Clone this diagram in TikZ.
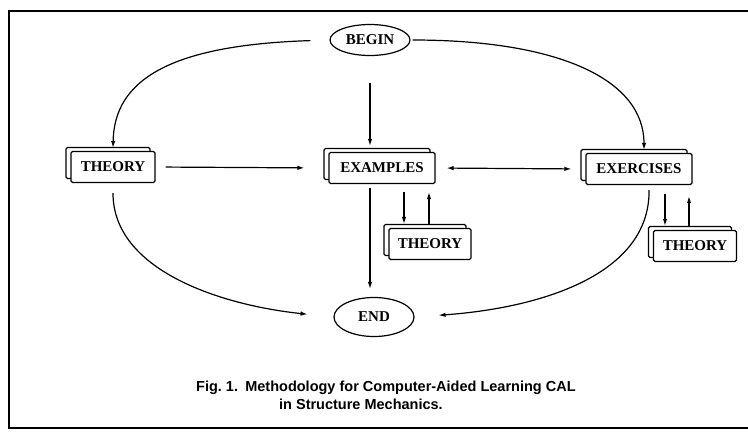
\documentclass[tikz,border=0pt]{standalone}
\usepackage{fontspec}
\setmainfont{Liberation Serif}
\newfontfamily\capfont{Liberation Sans}
\usetikzlibrary{arrows.meta,shapes.geometric,shadows}
\begin{document}
\begin{tikzpicture}[x=1pt,y=-1pt,
  every node/.style={inner sep=0pt},
  boxfont/.style={font=\bfseries\fontsize{15}{17}\selectfont},
  stackbox/.style={boxfont, draw, fill=white, rounded corners=1.5pt, line width=1.3pt,
     minimum height=31pt, copy shadow={shadow xshift=-5pt, shadow yshift=4pt}},
  ovalbox/.style={boxfont, ellipse, draw, line width=1.2pt, minimum width=80pt},
  arr/.style={-{Latex[length=7pt,width=4.5pt]}, line width=1.2pt},
  dblarr/.style={{Latex[length=7pt,width=4.5pt]}-{Latex[length=7pt,width=4.5pt]}, line width=1.2pt},
  frame/.style={line width=2pt},
  captext/.style={font=\capfont\bfseries\fontsize{14.5}{16}\selectfont, anchor=west},
]
\useasboundingbox (0,0) rectangle (748,432);
% frame
\draw[frame] (748,11) -- (9,11) -- (9,428) -- (748,428);
\draw[line width=1pt] (9,11) -- (748,11);

% nodes
\node[ovalbox, minimum height=31pt] (begin) at (370,40) {BEGIN};
\node[ovalbox, minimum height=39pt] (end) at (374,317) {END};
\node[stackbox, minimum width=84pt] (th1) at (113,167) {THEORY};
\node[stackbox, minimum width=106pt] (ex) at (382,168) {EXAMPLES};
\node[stackbox, minimum width=106pt] (exc) at (639,169) {EXERCISES};
\node[stackbox, minimum width=82pt] (th2) at (430,244) {THEORY};
\node[stackbox, minimum width=83pt] (th3) at (695,246) {THEORY};

% connectors
\draw[arr, shorten <=19pt, shorten >=3pt] (begin.west) .. controls (170,45) and (114,80) .. (th1.north);
\draw[arr, shorten <=2pt, shorten >=3pt] (begin.east) .. controls (560,40) and (644,80) .. ([xshift=5pt]exc.north);
\draw[arr, shorten <=27pt, shorten >=6pt] (begin.south) -- (begin.south |- ex.north);
\draw[arr, shorten <=10pt, shorten >=24pt] (th1.east) -- (ex.west);
\draw[dblarr, shorten <=11pt, shorten >=14pt] (ex.east) -- (exc.west);
\draw[arr, shorten <=4pt, shorten >=8pt] (begin.south |- ex.south) -- (begin.south |- end.north);
\draw[arr, shorten <=8pt, shorten >=4pt] ([xshift=22pt]ex.south) -- ([xshift=-26pt]th2.north);
\draw[arr, shorten <=4pt, shorten >=8pt] ([xshift=-1pt]th2.north) -- ([xshift=47pt]ex.south);
\draw[arr, shorten <=9pt, shorten >=4pt] ([xshift=26pt]exc.south) -- ([xshift=-30pt]th3.north);
\draw[arr, shorten <=4pt, shorten >=11pt] ([xshift=-6pt]th3.north) -- ([xshift=50pt]exc.south);
\draw[arr, shorten <=10pt, shorten >=26pt] (th1.south) .. controls (113,270) and (220,305) .. (end.west);
\draw[arr, shorten <=5pt, shorten >=24pt] ([xshift=10pt]exc.south) .. controls (650,275) and (540,308) .. (end.east);

% caption
\node[captext] (cap1) at (196,388) {Fig.\ 1.\hspace{0.5em}Methodology for Computer-Aided Learning CAL};
\node[captext] (cap2) at (279,404) {in Structure Mechanics.};
\end{tikzpicture}
\end{document}
